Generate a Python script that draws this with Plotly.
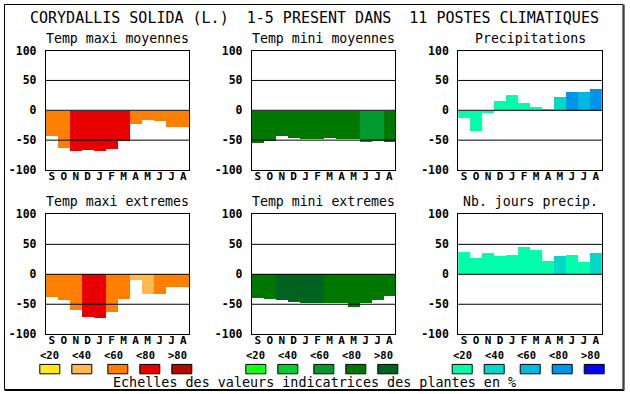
import plotly.graph_objects as go

W, H = 630, 394

MONTHS = ["S", "O", "N", "D", "J", "F", "M", "A", "M", "J", "J", "A"]
TITLE = "CORYDALLIS SOLIDA (L.)  1-5 PRESENT DANS  11 POSTES CLIMATIQUES"
PANEL_TITLES = ["Temp maxi moyennes", "Temp mini moyennes", "Precipitations",
                "Temp maxi extremes", "Temp mini extremes", "Nb. jours precip."]
SCALE_LABELS = ["<20", "<40", "<60", "<80", ">80"]
FOOTER = "Echelles des valeurs indicatrices des plantes en %"
Y_TICKS = [100, 50, 0, -50, -100]

# palettes (class 0..4)
WARM = ["#FFE81A", "#FFB84D", "#FF8000", "#E80000", "#B00C00"]
GREEN = ["#14FF14", "#00CC33", "#009A2E", "#007800", "#006420"]
BLUE = ["#00FFAA", "#00D8C8", "#00B8E0", "#0094E8", "#0000FF"]

# values
tmax_moy = [-43, -63, -68, -66, -68, -64, -50, -23, -15, -18, -28, -28]
tmax_moy_cls = [2, 2, 3, 3, 3, 3, 3, 2, 2, 2, 2, 2]
tmin_moy = [-54, -50, -43, -45, -47, -47, -45, -47, -47, -53, -50, -53]
tmin_moy_cls = [3, 3, 3, 3, 3, 3, 3, 3, 3, 2, 2, 3]
precip = [-12, -34, -4, 17, 27, 13, 7, 2, 23, 32, 32, 37]
precip_cls = [0, 0, 0, 0, 0, 0, 0, 0, 1, 3, 2, 3]
tmax_ext = [-38, -44, -60, -72, -74, -64, -42, -10, -33, -34, -22, -22]
tmax_ext_cls = [2, 2, 2, 3, 3, 2, 2, 1, 1, 2, 2, 2]
tmin_ext = [-40, -42, -44, -47, -49, -49, -48, -48, -55, -49, -44, -37]
tmin_ext_cls = [3, 3, 4, 4, 4, 4, 3, 3, 3, 3, 3, 3]
nbjours = [37, 27, 35, 30, 32, 45, 40, 22, 30, 32, 20, 35]
nbjours_cls = [0, 0, 0, 0, 0, 0, 0, 0, 1, 0, 0, 1]

SERIES = [(tmax_moy, tmax_moy_cls, WARM), (tmin_moy, tmin_moy_cls, GREEN),
          (precip, precip_cls, BLUE), (tmax_ext, tmax_ext_cls, WARM),
          (tmin_ext, tmin_ext_cls, GREEN), (nbjours, nbjours_cls, BLUE)]
PALETTES = [WARM, GREEN, BLUE]

# layout geometry (pixels)
COLS = [(45.8, 189.4), (251.8, 395.4), (458.2, 601.8)]
ROWS = [(50.6, 170.0), (214.4, 334.2)]

def px(x):
    return x / W

def py(y):
    return 1 - y / H

MONO = "DejaVu Sans Mono, Liberation Mono, monospace"

fig = go.Figure()
shapes = []
annotations = []

for i, (vals, cls, pal) in enumerate(SERIES):
    r, c = divmod(i, 3)
    n = i + 1
    xa = "x" if n == 1 else f"x{n}"
    ya = "y" if n == 1 else f"y{n}"
    fig.add_trace(go.Bar(
        x=list(range(len(vals))), y=vals,
        marker=dict(color=[pal[k] for k in cls], line=dict(width=0)),
        width=1, xaxis=xa, yaxis=ya, showlegend=False, hoverinfo="skip"))
    x0, x1 = COLS[c]
    y0, y1 = ROWS[r]
    axkw = dict(showline=True, linecolor="black", linewidth=1, mirror=True,
                showgrid=False, zeroline=False, fixedrange=True, automargin=False)
    fig.layout[f"xaxis{n if n > 1 else ''}"] = dict(
        domain=[px(x0), px(x1)], anchor=ya, range=[-0.5, 11.5],
        tickmode="array", tickvals=list(range(12)), ticktext=MONTHS,
        ticks="", ticklabelstandoff=-4,
        tickfont=dict(family=MONO, size=11, color="black", weight="bold"), **axkw)
    fig.layout[f"yaxis{n if n > 1 else ''}"] = dict(
        domain=[py(y1), py(y0)], anchor=xa, range=[-100, 100],
        tickmode="array", tickvals=Y_TICKS, ticktext=[str(v) for v in Y_TICKS],
        ticks="", ticklabelstandoff=6,
        tickfont=dict(family=MONO, size=11.5, color="black", weight="bold"), **axkw)
    for gv in (50, 0, -50):
        shapes.append(dict(type="line", xref=f"{xa} domain", yref=ya,
                           x0=0, x1=1, y0=gv, y1=gv, layer="above",
                           line=dict(color="black", width=1)))
    annotations.append(dict(text=PANEL_TITLES[i], xref="paper", yref="paper",
                            x=px((x0 + x1) / 2), y=py(y0 - 12.5), showarrow=False,
                            xanchor="center", yanchor="middle",
                            font=dict(family=MONO, size=13.2, color="black")))

# scale legend under bottom row
LABEL_OFF = [4, 36, 68, 100, 132]
BOX_OFF = [(-6, 14), (26, 46), (62, 82), (94, 114), (126, 146)]
for c, pal in enumerate(PALETTES):
    left = COLS[c][0]
    for k in range(5):
        annotations.append(dict(text=SCALE_LABELS[k], xref="paper", yref="paper",
                                x=px(left + LABEL_OFF[k]), y=py(355), showarrow=False,
                                xanchor="center", yanchor="middle",
                                font=dict(family=MONO, size=10.5, color="black", weight="bold")))
        bx0, bx1 = BOX_OFF[k]
        shapes.append(dict(type="rect", xref="paper", yref="paper",
                           x0=px(left + bx0), x1=px(left + bx1),
                           y0=py(373.8), y1=py(364.4),
                           fillcolor=pal[k], line=dict(color="black", width=1)))

annotations.append(dict(text=TITLE, xref="paper", yref="paper", x=px(314.5), y=py(18),
                        showarrow=False, xanchor="center", yanchor="middle",
                        font=dict(family=MONO, size=15, color="black")))
annotations.append(dict(text=FOOTER, xref="paper", yref="paper", x=px(314.5), y=py(382),
                        showarrow=False, xanchor="center", yanchor="middle",
                        font=dict(family=MONO, size=13.4, color="black")))

# outer frame with heavier right/bottom edge
shapes.append(dict(type="rect", xref="paper", yref="paper",
                   x0=px(4.5), x1=px(623), y0=py(389.5), y1=py(4.5),
                   line=dict(color="black", width=1)))
shapes.append(dict(type="line", xref="paper", yref="paper",
                   x0=px(4.5), x1=px(624), y0=py(390.5), y1=py(390.5),
                   line=dict(color="black", width=1)))
shapes.append(dict(type="line", xref="paper", yref="paper",
                   x0=px(624), x1=px(624), y0=py(4.5), y1=py(390.5),
                   line=dict(color="black", width=1)))

fig.update_layout(width=W, height=H, autosize=False,
                  margin=dict(l=0, r=0, t=0, b=0, pad=0, autoexpand=False),
                  paper_bgcolor="white", plot_bgcolor="white",
                  bargap=0, shapes=shapes, annotations=annotations)

fig.write_html("out.html", config={"displayModeBar": False},
               post_script="document.body.style.margin='0';document.body.style.overflow='hidden';")
